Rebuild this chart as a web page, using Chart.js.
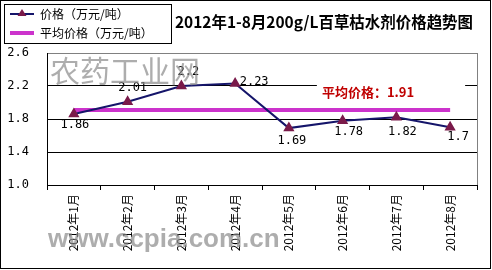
<!DOCTYPE html>
<html>
<head>
<meta charset="utf-8">
<script src="https://cdn.jsdelivr.net/npm/chart.js@4/dist/chart.umd.min.js"></script>
<style>
  html, body { margin: 0; padding: 0; background: #fff; }
  #wrap { width: 492px; height: 270px; }
</style>
</head>
<body>
<div id="wrap"><canvas id="myChart" width="492" height="270"></canvas></div>
<script>
// chart data
var months = ['2012年1月', '2012年2月', '2012年3月', '2012年4月', '2012年5月', '2012年6月', '2012年7月', '2012年8月'];
var prices = [1.86, 2.01, 2.2, 2.23, 1.69, 1.78, 1.82, 1.7];
var avgPrice = 1.91;
var avgPrices = [1.91, 1.91, 1.91, 1.91, 1.91, 1.91, 1.91, 1.91];
var yTicks = [1.0, 1.4, 1.8, 2.2, 2.6];

var titleText = '2012年1-8月200g/L百草枯水剂价格趋势图';
var priceLabel = '价格（万元/吨）';
var avgLabel = '平均价格（万元/吨）';

var numFont = '"DejaVu Sans Mono", monospace';
var cjkFont = '"Noto Sans CJK SC", sans-serif';

var navy = '#15156a';
var marker = '#7a1a4a';
var magenta = '#cc33cc';

// draws frame, legend box, title, value labels, avg note and watermarks
var decorations = {
  id: 'decorations',
  afterDraw: function(chart) {
    var c = chart.ctx;
    var area = chart.chartArea;
    var xs = chart.scales.x, ys = chart.scales.y;
    c.save();

    // grey right border of the plot area
    c.strokeStyle = '#808080';
    c.lineWidth = 1;
    c.beginPath();
    c.moveTo(Math.round(area.right) + 0.5, area.top);
    c.lineTo(Math.round(area.right) + 0.5, area.bottom);
    c.stroke();

    // value labels
    var offs = [[1, 11], [5, -14], [7, -14], [19, -2], [3, 13], [6, 11], [6, 15], [8, 10]];
    var meta = chart.getDatasetMeta(0);
    c.fillStyle = '#000';
    c.font = '12px ' + numFont;
    c.textAlign = 'center';
    c.textBaseline = 'middle';
    meta.data.forEach(function(pt, i) {
      c.fillText(String(prices[i]), pt.x + offs[i][0], pt.y + offs[i][1]);
    });

    // average note with white box over the gridline
    var bx = xs.getPixelForValue(4) + 28;
    var bw = xs.getPixelForValue(7) + 15 - bx;
    var by = ys.getPixelForValue(2.2) - 2;
    c.fillStyle = '#fff';
    c.fillRect(bx, by, bw, 18);
    c.fillStyle = '#c00000';
    c.font = 'bold 13px ' + cjkFont;
    c.textAlign = 'left';
    c.fillText('平均价格：' + avgPrice.toFixed(2), bx + 5, by + 8);

    // watermarks
    c.globalAlpha = 0.7;
    c.fillStyle = '#8a8a8a';
    c.font = '30px "Noto Sans CJK SC", serif';
    c.fillText('农药工业网', 50, 71);
    c.font = 'bold 26px "Liberation Sans", Arial, sans-serif';
    c.fillText('www.ccpia.com.cn', 48, 240);
    c.globalAlpha = 1;

    // legend box
    c.strokeStyle = '#000';
    c.lineWidth = 1;
    c.strokeRect(4.5, 4.5, 167, 39);
    c.strokeStyle = navy;
    c.lineWidth = 2;
    c.beginPath(); c.moveTo(10, 14); c.lineTo(34, 14); c.stroke();
    c.fillStyle = marker;
    c.beginPath(); c.moveTo(22, 9); c.lineTo(26.5, 16); c.lineTo(17.5, 16); c.closePath(); c.fill();
    c.strokeStyle = magenta;
    c.lineWidth = 4;
    c.beginPath(); c.moveTo(10, 33); c.lineTo(34, 33); c.stroke();
    c.fillStyle = '#000';
    c.font = '12px ' + cjkFont;
    c.fillText(priceLabel, 40, 14);
    c.fillText(avgLabel, 40, 33);

    // title, squeezed to the width it has in the picture
    c.font = 'bold 16px ' + cjkFont;
    var tw = c.measureText(titleText).width;
    c.translate(175, 22);
    c.scale(Math.min(1, 298 / tw), 1);
    c.fillText(titleText, 0, 0);
    c.setTransform(1, 0, 0, 1, 0, 0);

    // outer frame
    c.strokeStyle = '#000';
    c.lineWidth = 1;
    c.strokeRect(0.5, 0.5, 490, 268);
    c.restore();
  }
};

var ctx = document.getElementById('myChart');
var config = {
  type: 'line',
  data: {
    labels: months,
    datasets: [
      {
        label: priceLabel,
        data: prices,
        borderColor: navy,
        borderWidth: 2,
        tension: 0,
        pointStyle: 'triangle',
        pointRadius: 4.5,
        pointBackgroundColor: marker,
        pointBorderColor: marker,
        order: 1
      },
      {
        label: avgLabel,
        data: avgPrices,
        borderColor: magenta,
        borderWidth: 4,
        pointRadius: 0,
        tension: 0,
        order: 2
      }
    ]
  },
  options: {
    responsive: false,
    animation: false,
    layout: { padding: { left: 0, top: 53, right: 15, bottom: 0 } },
    plugins: {
      legend: { display: false },
      tooltip: { enabled: false }
    },
    scales: {
      x: {
        offset: true,
        grid: { drawOnChartArea: false, color: '#000', tickLength: 5, offset: true },
        border: { color: '#000' },
        ticks: {
          minRotation: 90, maxRotation: 90, padding: 4,
          color: '#000', font: { family: cjkFont, size: 12 }
        },
        afterFit: function(s) { s.height = 85; }
      },
      y: {
        min: 1.0, max: 2.6,
        afterBuildTicks: function(s) {
          s.ticks = yTicks.map(function(v) { return { value: v }; });
        },
        grid: {
          drawTicks: false,
          color: function(c) { return c.tick && c.tick.value === 2.6 ? '#808080' : '#000'; }
        },
        border: { color: '#000' },
        ticks: {
          padding: 18, color: '#000', font: { family: numFont, size: 12 },
          callback: function(v) { return Number(v).toFixed(1); }
        },
        afterFit: function(s) { s.width = 47; }
      }
    }
  },
  plugins: [decorations]
};
var myChart = new Chart(ctx, config);
</script>
</body>
</html>
